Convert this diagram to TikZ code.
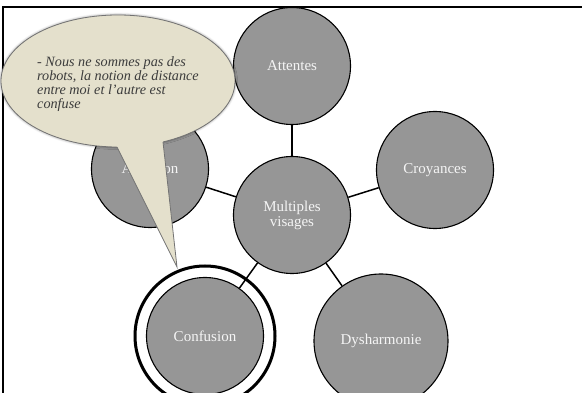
\documentclass[tikz,border=0pt]{standalone}
\usepackage{fontspec}
\setmainfont{Liberation Serif}
\usetikzlibrary{calc, shadows.blur}

\definecolor{sable}{RGB}{228,224,204}
\definecolor{disque}{RGB}{150,150,150}
\definecolor{encre}{RGB}{60,60,60}

\begin{document}
\begin{tikzpicture}[x=1pt, y=-1pt,
  idee/.style={circle, draw=black, line width=1.1pt, fill=disque, text=white!96!black,
    inner sep=0pt, minimum size=117pt, align=center, font=\fontsize{15}{15}\selectfont},
  lien/.style={line width=1.5pt},
  bulle/.style={fill=sable, draw=black!55, line width=0.8pt}]
\useasboundingbox (0,0) rectangle (582,393);

% cadre
\draw[line width=2.5pt] (3,393) -- (3,7) -- (582,7);

\draw[line width=3pt, fill=white, blur shadow={shadow xshift=0pt, shadow yshift=0pt, shadow blur radius=2pt}]
  (205,336) circle [radius=70];

\node[idee] (centre) at (292,215) {Multiples\\visages};
\node[idee] (attentes) at (292,66) {Attentes};
\node[idee] (croyances) at (435,170) {Croyances};
\node[idee] (attention) at (150,169) {Attention};
\node[idee, minimum size=134pt] (dysharmonie) at (381,341) {Dysharmonie};
\node[idee] (confusion) at (205,336) {Confusion};

\draw[lien] (centre) -- (attentes);
\draw[lien] (centre) -- (croyances);
\draw[lien] (centre) -- (attention);
\draw[lien] (centre) -- (dysharmonie);
\draw[lien] (centre) -- (confusion);

% bulle
\draw[bulle, blur shadow={shadow xshift=0pt, shadow yshift=0pt, shadow blur radius=2.5pt, shadow opacity=50}]
  (118,81) ellipse [x radius=117, y radius=66];
\fill[sable] (112,137) -- (177,267) -- (162,133) -- cycle;
\draw[black!55, line width=0.8pt] (117,147) -- (177,267) -- (163,142);
\node[font=\itshape\fontsize{14.2}{14}\selectfont, text=encre, align=left,
  anchor=north west, inner sep=0pt] (propos) at (37,56)
  {- Nous ne sommes pas des\\robots, la notion de distance\\entre moi et l'autre est\\confuse};
\end{tikzpicture}
\end{document}
